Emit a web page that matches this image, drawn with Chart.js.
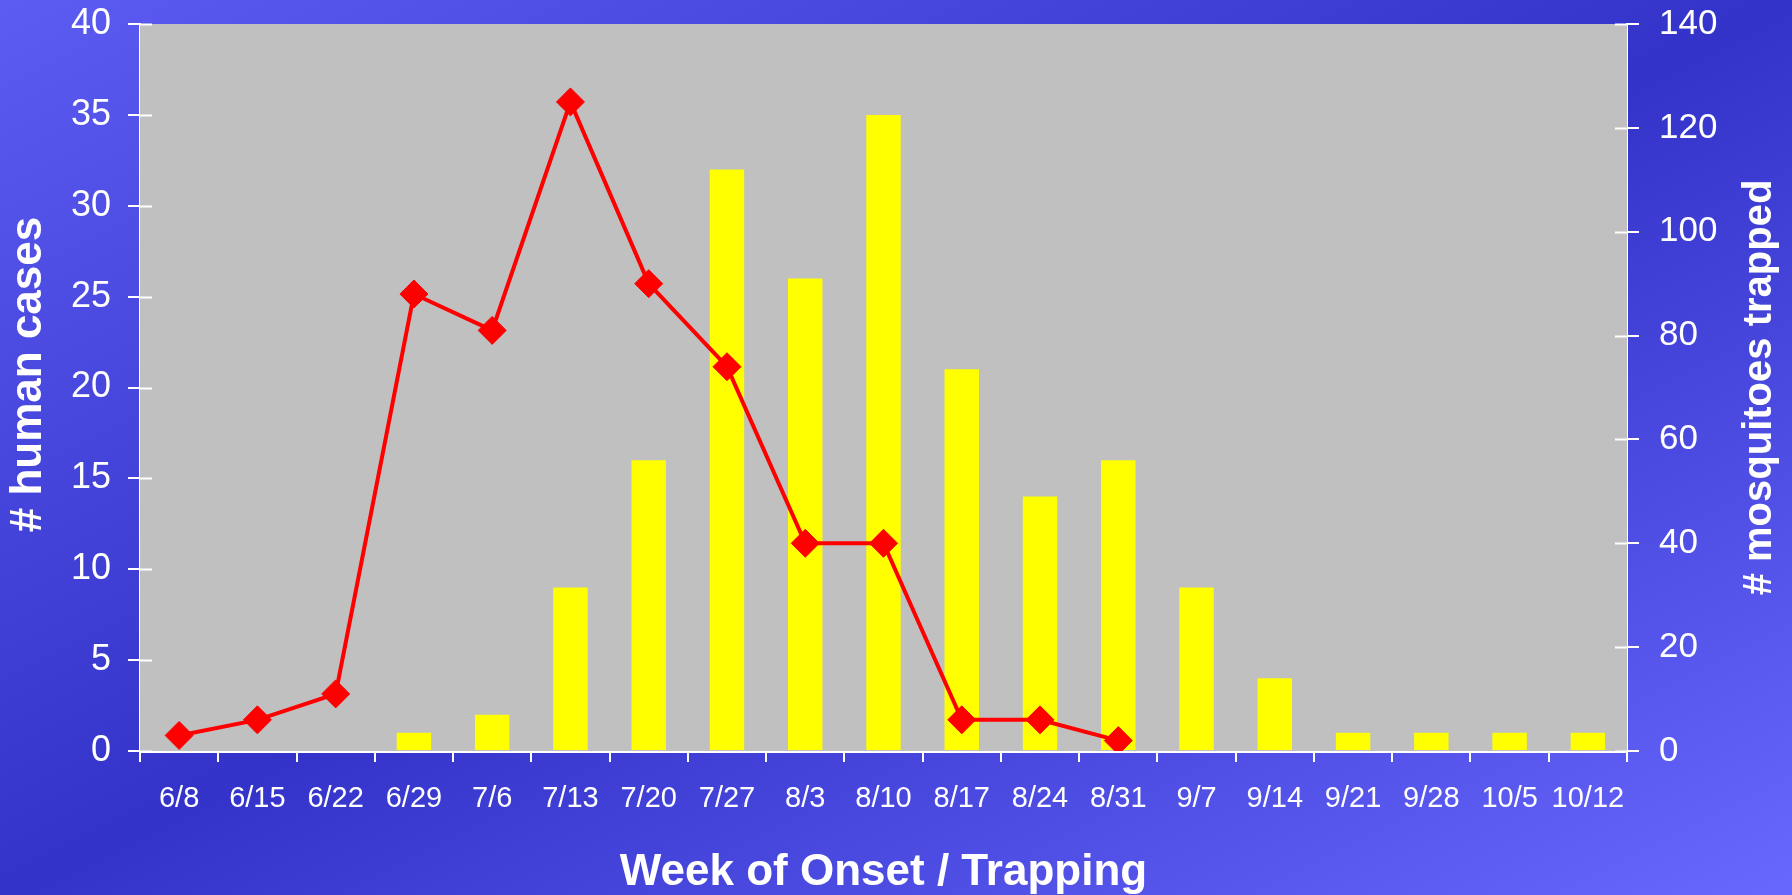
<!DOCTYPE html>
<html>
<head>
<meta charset="utf-8">
<script src="https://cdn.jsdelivr.net/npm/chart.js@4.4.1/dist/chart.umd.min.js"></script>
<style>
  html, body { margin: 0; padding: 0; }
  body {
    width: 1792px; height: 895px; overflow: hidden;
    background: linear-gradient(to bottom right, #5c5cf2 0%, #3333c9 50%, #6868ff 100%);
  }
  #wrap { position: relative; width: 1792px; height: 895px; }
</style>
</head>
<body>
<div id="wrap"><canvas id="myChart"></canvas></div>
<script>
const canvas = document.getElementById('myChart');
const ctx = canvas.getContext('2d');

//// data
const weeks = ['6/8', '6/15', '6/22', '6/29', '7/6', '7/13', '7/20', '7/27', '8/3', '8/10',
  '8/17', '8/24', '8/31', '9/7', '9/14', '9/21', '9/28', '10/5', '10/12'];
// yellow bars, left axis
const humanCases = [0, 0, 0, 1, 2, 9, 16, 32, 26, 35, 21, 14, 16, 9, 4, 1, 1, 1, 1];
// red line, right axis
const mosquitoes = [3, 6, 11, 88, 81, 125, 90, 74, 40, 40, 6, 6, 2,
  null, null, null, null, null, null];

const leftTitle = '# human cases';
const rightTitle = '# mosquitoes trapped';
const xTitle = 'Week of Onset / Trapping';

const FONT = "'Liberation Sans', Arial, sans-serif";

function drawVertTitle(c, text, x, y, size) {
  c.save();
  c.translate(x, y);
  c.rotate(-Math.PI / 2);
  c.fillStyle = '#ffffff';
  c.font = 'bold ' + size + 'px ' + FONT;
  c.textAlign = 'center';
  c.textBaseline = 'middle';
  c.fillText(text, 0, 0);
  c.restore();
}

// gray plot area, inner half of the y tick marks, both y titles (read bottom to top)
const decor = {
  id: 'decor',
  beforeDatasetsDraw(chart) {
    const a = chart.chartArea;
    const c = chart.ctx;
    c.save();
    c.fillStyle = '#c0c0c0';
    c.fillRect(a.left, a.top, a.right - a.left, a.bottom - a.top);
    c.restore();
  },
  afterDraw(chart) {
    const c = chart.ctx;
    const a = chart.chartArea;
    c.save();
    c.strokeStyle = '#ffffff';
    c.lineWidth = 2;
    const yl = chart.scales.y;
    yl.ticks.forEach((t, i) => {
      const py = Math.round(yl.getPixelForTick(i)) + 0.5;
      c.beginPath();
      c.moveTo(yl.right, py);
      c.lineTo(yl.right + 12, py);
      c.stroke();
    });
    const yr = chart.scales.y2;
    yr.ticks.forEach((t, i) => {
      const py = Math.round(yr.getPixelForTick(i)) + 0.5;
      c.beginPath();
      c.moveTo(yr.left - 12, py);
      c.lineTo(yr.left, py);
      c.stroke();
    });
    c.restore();
    const mid = (a.top + a.bottom) / 2;
    drawVertTitle(c, leftTitle, 29, mid - 13, 44);
    drawVertTitle(c, rightTitle, 1760, mid, 40);
  }
};

const data = {
  labels: weeks,
  datasets: [
    {
      type: 'line',
      label: 'mosquitoes trapped',
      data: mosquitoes,
      yAxisID: 'y2',
      order: 0,
      borderColor: '#ff0000',
      borderWidth: 4,
      backgroundColor: '#ff0000',
      pointStyle: 'rectRot',
      pointRadius: 14,
      pointBorderWidth: 1,
      pointBackgroundColor: '#ff0000',
      pointBorderColor: '#ff0000',
      tension: 0,
      spanGaps: false
    },
    {
      type: 'bar',
      label: 'human cases',
      data: humanCases,
      yAxisID: 'y',
      order: 1,
      backgroundColor: '#ffff00',
      borderWidth: 0,
      categoryPercentage: 1,
      barPercentage: 0.44
    }
  ]
};

const options = {
  responsive: false,
  animation: false,
  layout: { padding: { top: 24, left: 0, right: 0, bottom: 0 } },
  plugins: {
    legend: { display: false },
    tooltip: { enabled: false }
  },
  scales: {
    x: {
      offset: true,
      grid: {
        display: true,
        drawOnChartArea: false,
        drawTicks: true,
        tickLength: 11,
        color: '#ffffff',
        lineWidth: 2,
        offset: true
      },
      border: { display: true, color: '#ffffff', width: 3 },
      ticks: {
        color: '#ffffff',
        font: { family: FONT, size: 29 },
        padding: 20,
        maxRotation: 0,
        autoSkip: false
      },
      title: {
        display: true,
        text: xTitle,
        color: '#ffffff',
        font: { family: FONT, size: 44, weight: 'bold', lineHeight: 1.0 },
        padding: { top: 0, bottom: 0 }
      },
      afterFit(scale) { scale.height = 144; }
    },
    y: {
      position: 'left',
      min: 0,
      max: 40,
      grid: {
        drawOnChartArea: false,
        tickLength: 12,
        color: '#ffffff',
        lineWidth: 2
      },
      border: { display: true, color: '#ffffff', width: 2 },
      ticks: {
        stepSize: 5,
        color: '#ffffff',
        font: { family: FONT, size: 36 },
        padding: 17
      },
      afterFit(scale) {
        scale.width = 140;
        scale.paddingTop = 0;
        scale.paddingBottom = 0;
      }
    },
    y2: {
      position: 'right',
      min: 0,
      max: 140,
      grid: {
        drawOnChartArea: false,
        tickLength: 12,
        color: '#ffffff',
        lineWidth: 2
      },
      border: { display: true, color: '#ffffff', width: 2 },
      ticks: {
        stepSize: 20,
        color: '#ffffff',
        font: { family: FONT, size: 35 },
        padding: 20
      },
      afterFit(scale) {
        scale.width = 165;
        scale.paddingTop = 0;
        scale.paddingBottom = 0;
      }
    }
  }
};

canvas.width = 1792;
canvas.height = 895;
new Chart(ctx, {
  type: 'bar',
  data,
  options,
  plugins: [decor]
});
</script>
</body>
</html>
